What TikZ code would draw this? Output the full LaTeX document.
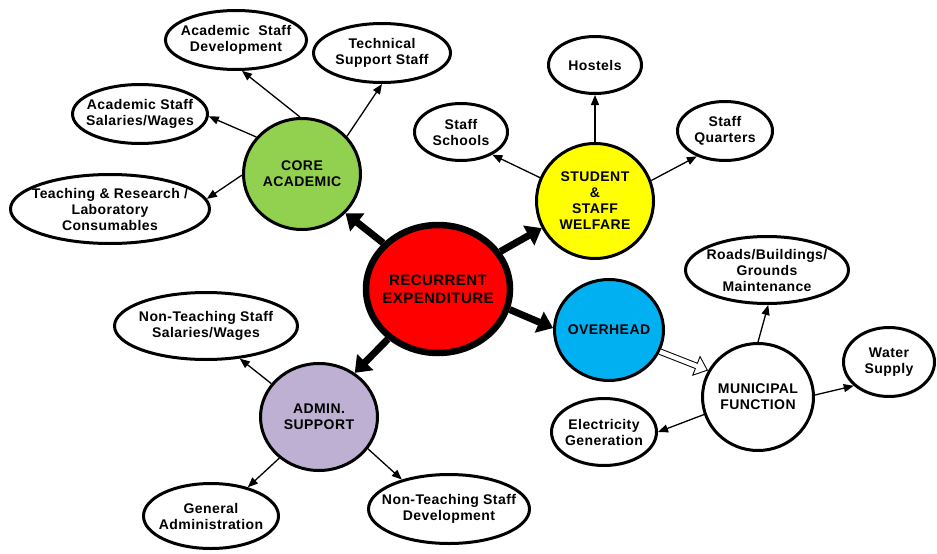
\documentclass[tikz,border=0pt]{standalone}
\usepackage{fontspec}
\setmainfont{Liberation Sans}[LetterSpace=3]
\usetikzlibrary{shapes.geometric,arrows.meta}

\definecolor{hubred}{HTML}{FF0000}
\definecolor{hubgreen}{HTML}{92D050}
\definecolor{hubyellow}{HTML}{FFFF00}
\definecolor{hubblue}{HTML}{00B0F0}
\definecolor{hublilac}{HTML}{BDB0D2}

\tikzset{
  blob/.style={ellipse, draw=black, line width=3pt, inner sep=-30pt, align=center,
    font=\bfseries\fontsize{14}{16}\selectfont},
  leaf/.style={blob, fill=white},
  hub/.style={blob, fill=#1},
  rootnode/.style={ellipse, draw=black, line width=6.5pt, fill=hubred, inner sep=-30pt,
    align=center, font=\bfseries\fontsize{15}{18}\selectfont},
  sz/.style 2 args={minimum width=#1pt, minimum height=#2pt},
  thin/.style={line width=1.3pt, -{Triangle[length=10pt,width=8pt]}},
  thick/.style={line width=7pt, -{Triangle[length=15pt,width=22pt]}},
  % outlined block arrow: black body first, white core on top
  hollowouter/.style={line width=6.5pt, -{Triangle[length=13pt, width=21pt]}},
  hollowinner/.style={white, line width=4.5pt, shorten >=1.6pt,
    -{Triangle[length=10.4pt, width=16.8pt]}}
}

\begin{document}
\begin{tikzpicture}[x=1pt, y=-1pt]
  \useasboundingbox[fill=white] (0,0) rectangle (937,554);

  % central node
  \node[rootnode, sz={144}{128}] (ctr) at (438,289) {RECURRENT\\EXPENDITURE};

  % four hubs
  \node[hub=hubgreen, sz={117}{111}] (core) at (302,174) {CORE\\ACADEMIC};
  \node[hub=hubyellow, sz={117}{115}] (welf) at (595,201) {STUDENT\\\&\\STAFF\\WELFARE};
  \node[hub=hubblue, sz={109}{101}] (ov) at (609,330) {OVERHEAD};
  \node[hub=hublilac, sz={117}{107}] (adm) at (319,417) {ADMIN.\\SUPPORT};
  \node[leaf, sz={111}{107}] (mun) at (758,397) {MUNICIPAL\\FUNCTION};

  % core academic items
  \node[leaf, sz={141}{59}] (asd) at (236,40) {Academic\ \ Staff\\Development};
  \node[leaf, sz={137}{59}] (tss) at (382,53) {Technical\\Support Staff};
  \node[leaf, sz={135}{59}] (assw) at (140,114) {Academic Staff\\Salaries/Wages};
  \node[leaf, sz={199}{69}] (trlc) at (110,209) {Teaching \& Research /\\Laboratory\\Consumables};

  % welfare items
  \node[leaf, sz={93}{57}] (host) at (595,65) {Hostels};
  \node[leaf, sz={93}{57}] (ssch) at (461,132) {Staff\\Schools};
  \node[leaf, sz={95}{59}] (sq) at (725,131) {Staff\\Quarters};

  % municipal items
  \node[leaf, sz={163}{67}] (road) at (767,270) {Roads/Buildings/\\Grounds\\Maintenance};
  \node[leaf, sz={91}{69}] (water) at (889,362) {Water\\Supply};
  \node[leaf, sz={105}{67}] (elec) at (604,432) {Electricity\\Generation};

  % admin items
  \node[leaf, sz={183}{67}] (ntss) at (206,326) {Non-Teaching Staff\\Salaries/Wages};
  \node[leaf, sz={135}{65}] (ga) at (211,516) {General\\Administration};
  \node[leaf, sz={161}{69}] (ntsd) at (449,509) {Non-Teaching Staff\\Development};

  % main branches
  \draw[thick] (ctr.140) -- (core.318);
  \draw[thick] (ctr.31) -- (welf.207);
  \draw[thick] (ctr.344) -- (ov.178);
  \draw[thick] (ctr.225) -- (adm.51);

  % overhead to municipal
  \draw[hollowouter] (ov.337) -- (mun.152);
  \draw[hollowinner] (ov.337) -- (mun.152);

  % sub-branches
  \draw[thin] (core.92) -- (asd.281);
  \draw[thin] (core.40) -- (tss.270);
  \draw[thin] (core.141) -- (assw.358);
  \draw[thin] (core.181) -- (trlc.6);

  \draw[thin] (welf.90) -- (host.270);
  \draw[thin] (welf.157) -- (ssch.324);
  \draw[thin] (welf.20) -- (sq.222);

  \draw[thin] (mun.90) -- (road.272);
  \draw[thin] (mun.2) -- (water.214);
  \draw[thin] (mun.198) -- (elec.0);

  \draw[thin] (adm.145) -- (ntss.316);
  \draw[thin] (adm.226) -- (ga.38);
  \draw[thin] (adm.327) -- (ntsd.148);
\end{tikzpicture}
\end{document}
